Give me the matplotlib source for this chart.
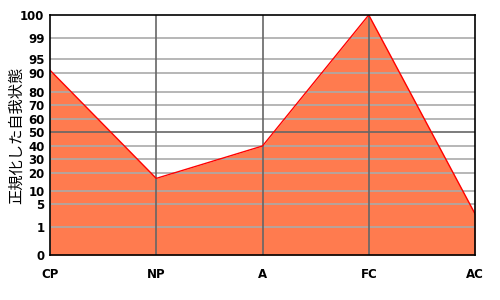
import numpy as np
import matplotlib.pyplot as plt
from matplotlib.ticker import FixedLocator

plt.rcParams['font.family'] = ['DejaVu Sans', 'Noto Sans CJK JP']

states = ['CP', 'NP', 'A', 'FC', 'AC']
scores = [91, 17, 40, 100, 3.3]

# y ticks and where they sit on the axis (0 = bottom, 1 = top)
tick_vals = [0, 1, 5, 10, 20, 30, 40, 50, 60, 70, 80, 90, 95, 99, 100]
tick_pos = [(255 - y) / 240 for y in
            [255, 227, 204, 191, 173, 159, 146, 132, 119, 105, 92, 73, 59, 38, 15]]


def fwd(v):
    return np.interp(v, tick_vals, tick_pos)


def inv(p):
    return np.interp(p, tick_pos, tick_vals)


fig = plt.figure(figsize=(5, 3), dpi=100)
ax = fig.add_axes([50 / 500, 45 / 300, 425 / 500, 240 / 300])
ax.set_yscale('function', functions=(fwd, inv))
ax.set_ylim(0, 100)
x = np.arange(len(states))
ax.set_xlim(0, len(states) - 1)

for v in tick_vals[1:-1]:
    ax.axhline(v, color='#666666' if v == 50 else '#aaaaaa', lw=1.2, zorder=3)
for xi in x[1:-1]:
    ax.axvline(xi, color='#666666', lw=1.2, zorder=3)

ax.fill_between(x, 0, scores, color='#ff7b4f', lw=0, zorder=2)
ax.plot(x, scores, color='red', lw=1, zorder=4)

ax.yaxis.set_major_locator(FixedLocator(tick_vals))
ax.yaxis.set_minor_locator(FixedLocator([]))
ax.set_yticks(tick_vals)
ax.set_yticklabels([str(v) for v in tick_vals])
ax.set_xticks(x)
ax.set_xticklabels(states)
ax.tick_params(length=0, labelsize=8.5)
ax.tick_params(axis='x', pad=9)
ax.tick_params(axis='y', pad=4)
for lab in ax.get_xticklabels() + ax.get_yticklabels():
    lab.set_fontweight('bold')
for s in ax.spines.values():
    s.set_color('black')
    s.set_linewidth(1.2)
    s.set_zorder(5)

ax.set_ylabel('正規化した自我状態', family=['Noto Sans CJK JP', 'DejaVu Sans'],
              fontsize=11)
ax.yaxis.set_label_coords(-25 / 425, 0.5)

fig.savefig('out.png', dpi=100)
